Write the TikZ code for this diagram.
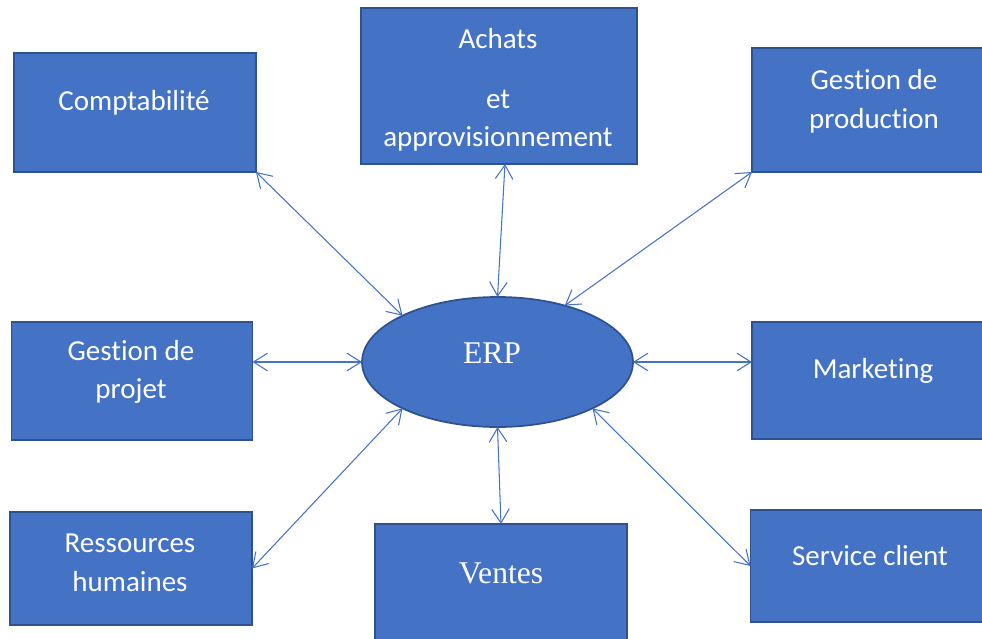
\documentclass[tikz,border=0pt]{standalone}
\usepackage{fontspec}
\setmainfont{Carlito}[Ligatures=NoCommon]
\newfontfamily\timesfont{Liberation Serif}
\usetikzlibrary{shapes.geometric,arrows.meta}
\definecolor{erpblue}{RGB}{68,114,196}
\definecolor{erpedge}{RGB}{47,82,143}

\begin{document}
\begin{tikzpicture}[x=0.02cm, y=-0.02cm,
    box/.style={draw=erpedge, fill=erpblue, line width=1pt, inner sep=0pt, outer sep=0pt},
    txt/.style={text=white, align=center, font=\fontsize{16.5}{22}\selectfont},
    serif/.style={text=white, align=center, font=\timesfont\fontsize{18}{22}\selectfont},
    link/.style={<->, >={Straight Barb[length=8pt,width=10pt]}, erpblue, line width=0.6pt}]
    \useasboundingbox (0,0) rectangle (982,638);
    \clip (0,0) rectangle (982,638);

    \node[box, minimum width=4.84cm, minimum height=2.38cm] (compta) at (135,112.5) {};
    \node[box, minimum width=5.52cm, minimum height=3.12cm] (achats) at (499,86) {};
    \node[box, minimum width=4.86cm, minimum height=2.48cm] (prod) at (873.5,110) {};
    \node[box, minimum width=4.82cm, minimum height=2.36cm] (projet) at (132,381) {};
    \node[box, minimum width=4.86cm, minimum height=2.34cm] (marketing) at (873.5,380.5) {};
    \node[box, minimum width=4.84cm, minimum height=2.26cm] (rh) at (131,568.5) {};
    \node[box, minimum width=5.04cm, minimum height=2.36cm] (ventes) at (501,583) {};
    \node[box, minimum width=4.90cm, minimum height=2.24cm] (svc) at (873,566) {};
    \node[box, ellipse, minimum width=5.42cm, minimum height=2.6cm] (erp) at (497.5,362) {};

    \node[txt] (comptaT) at (134,103) {Comptabilité};
    \node[txt] (achatsT) at (498,90) {Achats\\[12pt]et\\approvisionnement};
    \node[txt] (prodT) at (874,101) {Gestion de\\production};
    \node[txt] (projetT) at (131,372) {Gestion de\\projet};
    \node[txt] (marketingT) at (873,371) {Marketing};
    \node[txt] (rhT) at (130,563) {Ressources\\humaines};
    \node[txt] (svcT) at (870,556) {Service client};
    \node[serif] (ventesT) at (501,573) {Ventes};
    \node[serif] (erpT) at (492,353) {ERP};

    \draw[link] (compta.south east) -- (erp.154);
    \draw[link] ([xshift=3.4pt]achats.south) -- (erp.north);
    \draw[link] (prod.south west) -- (erp.40);
    \draw[link] (projet.east |- erp.west) -- (erp.west);
    \draw[link] (erp.east) -- (marketing.west |- erp.east);
    \draw[link] (rh.east) -- (erp.206);
    \draw[link] (erp.south) -- (ventes.north);
    \draw[link] (erp.334) -- (svc.west);
\end{tikzpicture}
\end{document}
